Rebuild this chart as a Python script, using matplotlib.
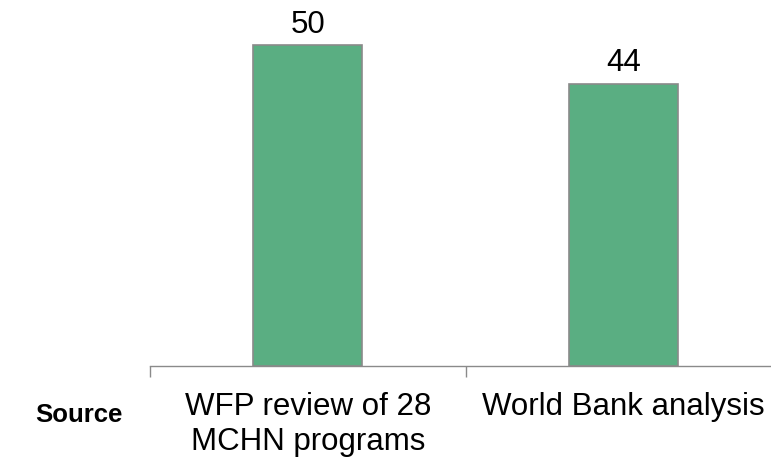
import matplotlib
matplotlib.use('Agg')
import matplotlib.pyplot as plt

categories = ['WFP review of 28\nMCHN programs', 'World Bank analysis']
values = [50, 44]

plt.rcParams['font.family'] = ['Liberation Sans', 'DejaVu Sans']

W, H = 771, 462
fig = plt.figure(figsize=(W / 100, H / 100), dpi=100)
ax = fig.add_axes([150 / W, (H - 366) / H, 631 / W, 353 / H])

pos = [0.5, 1.5]
bars = ax.bar(pos, values, width=0.345, color='#5aae82',
              edgecolor='#8a8a8a', linewidth=1.2, zorder=3)
for b, v in zip(bars, values):
    ax.text(b.get_x() + b.get_width() / 2, v + 0.8, str(v),
            ha='center', va='bottom', fontsize=22.5, color='black')

ax.set_xlim(0, 2)
ax.set_ylim(0, 55)
ax.set_xticks([0, 1, 2])
ax.set_xticklabels([])
ax.set_xticks(pos, minor=True)
ax.set_xticklabels(categories, minor=True, fontsize=22.5, linespacing=1.2,
                   va='top')
ax.tick_params(axis='x', which='major', length=8, color='#8a8a8a',
               width=1.0, direction='out')
ax.tick_params(axis='x', which='minor', length=0, pad=19)
ax.set_yticks([])
for s in ['top', 'right', 'left']:
    ax.spines[s].set_visible(False)
ax.spines['bottom'].set_color('#8a8a8a')
ax.spines['bottom'].set_linewidth(1.0)

fig.text(79 / W, 1 - 415 / H, 'Source', ha='center', va='center',
         fontsize=18.5, fontweight='bold')

fig.savefig('out.png', dpi=100)
